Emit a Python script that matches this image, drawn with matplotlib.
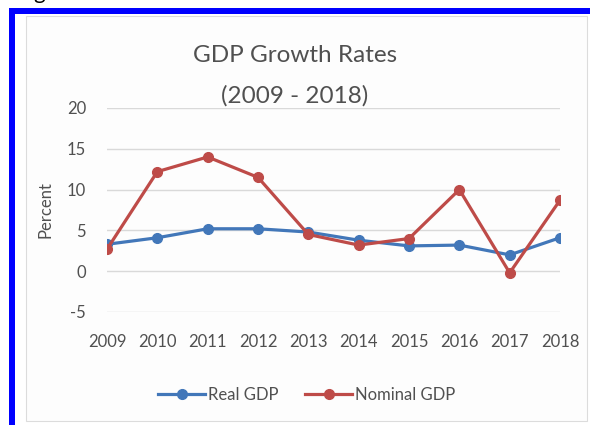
import matplotlib
matplotlib.use("Agg")
import matplotlib.pyplot as plt
from matplotlib.patches import Rectangle

# ─── Dados ────────────────────────────────────────────────────────────────────
years = ["2009", "2010", "2011", "2012", "2013", "2014", "2015", "2016", "2017", "2018"]
real_gdp = [3.3, 4.1, 5.2, 5.2, 4.8, 3.8, 3.1, 3.2, 2.0, 4.1]
nominal_gdp = [2.7, 12.2, 14.0, 11.5, 4.5, 3.2, 4.0, 10.0, -0.2, 8.7]
y_ticks = [-5, 0, 5, 10, 15, 20]

BLUE = "#4277b9"
RED = "#be4b48"
TEXT = "#505050"
W, H = 590, 425

plt.rcParams["font.family"] = ["Lato", "DejaVu Sans"]
plt.rcParams["axes.unicode_minus"] = False

fig = plt.figure(figsize=(W / 100, H / 100), dpi=100)
fig.patch.set_facecolor("white")

# moldura azul (esquerda e topo) + borda cinza do gráfico
fig.add_artist(Rectangle((26 / W, 1 - 421 / H), 561 / W, 405 / H, transform=fig.transFigure,
                         facecolor="#fdfdfd", edgecolor="#dcdcdc", linewidth=0.8, zorder=-2))
fig.add_artist(Rectangle((9 / W, 0), 6 / W, 1 - 8 / H, transform=fig.transFigure,
                         facecolor="#0000ff", edgecolor="none", zorder=5))
fig.add_artist(Rectangle((9 / W, 1 - 14 / H), 1 - 9 / W, 6 / H, transform=fig.transFigure,
                         facecolor="#0000ff", edgecolor="none", zorder=5))
fig.text(33 / W, 1 + 1 / H, "g", fontsize=16, color="black", va="baseline", ha="left")

ax = fig.add_axes([107 / W, 1 - 312 / H, 453 / W, 204 / H])
ax.set_facecolor("none")
x = list(range(len(years)))
ax.plot(x, real_gdp, color=BLUE, linewidth=2.3, marker="o", markersize=7, label="Real GDP", zorder=3)
ax.plot(x, nominal_gdp, color=RED, linewidth=2.3, marker="o", markersize=7, label="Nominal GDP", zorder=3)

ax.set_xlim(0, len(years) - 1)
ax.set_ylim(-5, 20)
ax.set_yticks(y_ticks)
ax.set_xticks(x)
ax.set_xticklabels(years)
ax.grid(axis="y", color="#d9d9d9", linewidth=1)
ax.set_axisbelow(True)
for s in ax.spines.values():
    s.set_visible(False)
ax.tick_params(length=0, colors=TEXT, labelsize=12)
ax.tick_params(axis="y", pad=15)
ax.tick_params(axis="x", pad=16)
ax.set_ylabel("Percent", color=TEXT, fontsize=12, labelpad=10)

fig.text(295 / W, 1 - 56 / H, "GDP Growth Rates", ha="center", va="center", fontsize=17.5, color=TEXT)
fig.text(295 / W, 1 - 96 / H, "(2009 - 2018)", ha="center", va="center", fontsize=17.5, color=TEXT)

fig.legend(loc="center", bbox_to_anchor=(307 / W, 1 - 395 / H), ncol=2, frameon=False,
           fontsize=12, labelcolor=TEXT, handlelength=2.8, columnspacing=1.6, handletextpad=0.2)

fig.savefig("out.png", dpi=100)
